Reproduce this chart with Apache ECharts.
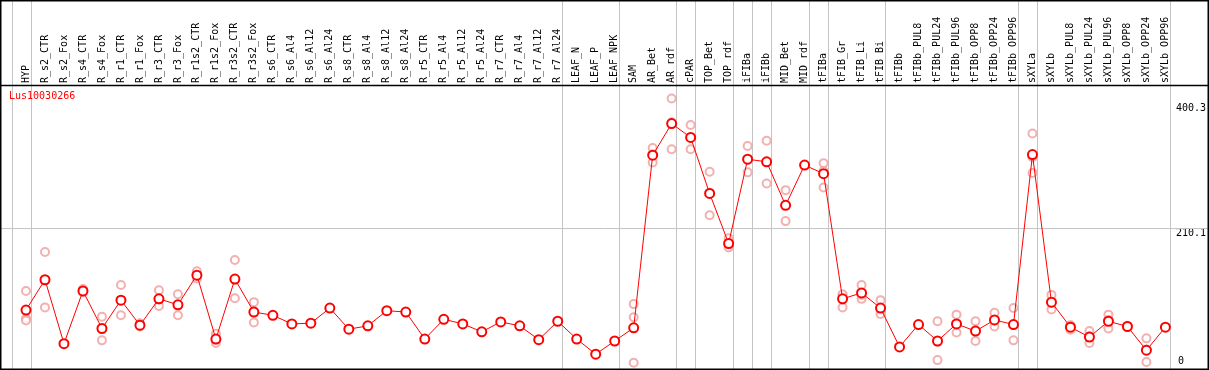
<!DOCTYPE html>
<html>
<head>
<meta charset="utf-8">
<script src="https://cdn.jsdelivr.net/npm/echarts@6/dist/echarts.min.js"></script>
<style>
html,body{margin:0;padding:0;background:#fff;}
#chart{width:1209px;height:370px;}
</style>
</head>
<body>
<div id="chart"></div>
<script>
const geneName = 'Lus10030266';
const categories = ['HYP','R_s2_CTR','R_s2_Fox','R_s4_CTR','R_s4_Fox','R_r1_CTR','R_r1_Fox','R_r3_CTR','R_r3_Fox','R_r1s2_CTR','R_r1s2_Fox','R_r3s2_CTR','R_r3s2_Fox','R_s6_CTR','R_s6_Al4','R_s6_Al12','R_s6_Al24','R_s8_CTR','R_s8_Al4','R_s8_Al12','R_s8_Al24','R_r5_CTR','R_r5_Al4','R_r5_Al12','R_r5_Al24','R_r7_CTR','R_r7_Al4','R_r7_Al12','R_r7_Al24','LEAF_N','LEAF_P','LEAF_NPK','SAM','AR_Bet','AR_rdf','cPAR','TOP_Bet','TOP_rdf','iFIBa','iFIBb','MID_Bet','MID_rdf','tFIBa','tFIB_Gr','tFIB_Li','tFIB_Bi','tFIBb','tFIBb_PUL8','tFIBb_PUL24','tFIBb_PUL96','tFIBb_OPP8','tFIBb_OPP24','tFIBb_OPP96','sXYLa','sXYLb','sXYLb_PUL8','sXYLb_PUL24','sXYLb_PUL96','sXYLb_OPP8','sXYLb_OPP24','sXYLb_OPP96'];
const meanValues = [86,132,35,115,58,101,63,103,94,139,42,133,83,78,65,66,89,57,62,85,83,42,72,65,53,68,62,41,69,42,19,39,59,321,369,348,263,187,315,311,245,306,293,103,112,89,30,64,39,65,54,71,64,322,98,60,45,69,61,25,60];
const rep1 = [115,174,null,118,76,124,66,116,110,145,50,162,98,null,null,null,null,null,null,null,null,null,null,null,null,null,null,null,null,null,null,null,95,332,407,367,296,195,335,343,268,null,309,108,124,101,null,null,69,79,69,82,89,354,109,63,54,79,62,43,null];
const rep2 = [73,90,null,113,40,78,61,92,78,134,36,104,67,null,null,null,null,null,null,null,null,null,null,null,null,null,null,null,null,null,null,null,75,310,330,330,230,181,295,278,221,null,272,90,103,86,null,null,10,52,39,61,40,294,87,56,36,58,61,7,null];
const rep3 = [70,131,null,114,58,101,63,102,93,138,41,132,84,null,null,null,null,null,null,null,null,null,null,null,null,null,null,null,null,null,null,null,6,322,371,348,264,186,314,311,246,null,297,110,109,80,null,null,38,65,55,70,64,318,97,62,46,71,61,26,null];
const groupEnds = [-1,0,28,31,34,35,37,38,39,41,42,45,52,53,60];
const yTickLabels = [210.1, 400.3];
const yZeroLabel = [0];
const refLineValue = 210.1;

const FONT = 'DejaVu Sans Mono';
const chart = echarts.init(document.getElementById('chart'), null, {renderer:'canvas'});

const repStyle = {
  type:'scatter', symbol:'emptyCircle', symbolSize:8,
  itemStyle:{color:'#f09c9c', borderColor:'#f09c9c', borderWidth:1.2},
  z:3, silent:true
};

chart.setOption({
  animation:false,
  backgroundColor:'#fff',
  title:{text:geneName, left:9, top:91, padding:0,
    textStyle:{color:'#ff0000', fontFamily:FONT, fontSize:10, fontWeight:'normal'}},
  grid:{left:16.5, right:33.5, top:86, bottom:1, containLabel:false},
  xAxis:{type:'category', position:'top', data:categories, boundaryGap:true,
    axisLine:{show:false}, axisTick:{show:false}, splitLine:{show:false},
    axisLabel:{interval:0, rotate:90, margin:3, color:'#000', fontFamily:FONT, fontSize:10}},
  yAxis:[
    {type:'value', position:'right', min:-3.5, max:426.1,
      axisLine:{show:false}, axisTick:{show:false}, splitLine:{show:false},
      axisLabel:{customValues:yTickLabels, margin:1, align:'left', verticalAlign:'top',
        color:'#000', fontFamily:FONT, fontSize:10, formatter:v=>String(v)}},
    {type:'value', position:'right', min:-3.5, max:426.1,
      axisLine:{show:false}, axisTick:{show:false}, splitLine:{show:false},
      axisLabel:{customValues:yZeroLabel, margin:3, align:'left', verticalAlign:'bottom',
        color:'#000', fontFamily:FONT, fontSize:10, formatter:v=>String(v)}}
  ],
  graphic:[
    {type:'rect', shape:{x:0.75,y:0.75,width:1207.5,height:368.5},
      style:{fill:null, stroke:'#000', lineWidth:1.5}, z:100, silent:true},
    {type:'line', shape:{x1:0,y1:85.5,x2:1209,y2:85.5},
      style:{stroke:'#000', lineWidth:1.5}, z:100, silent:true}
  ],
  series:[
    {type:'custom', name:'groups', clip:false, silent:true, z:1,
      data:groupEnds.map(g=>[0,0,g]), encode:{x:0,y:1},
      renderItem:(params, api)=>{
        const bw = api.size([1,0])[0];
        const x0 = api.coord([0,0])[0];
        const x = Math.round(x0 + (api.value(2) + 0.24) * bw) + 0.5;
        return {type:'line', shape:{x1:x,y1:0,x2:x,y2:params.coordSys.y+params.coordSys.height},
          style:{stroke:'#c4c4c4', lineWidth:1}};
      }},
    {type:'custom', name:'ref', clip:false, silent:true, z:1,
      data:[[0, refLineValue]], encode:{x:0,y:1},
      renderItem:(params, api)=>{
        const y = Math.round(api.coord([0, api.value(1)])[1]) + 0.5;
        return {type:'line', shape:{x1:0,y1:y,x2:1209,y2:y},
          style:{stroke:'#c4c4c4', lineWidth:1}};
      }},
    Object.assign({name:'rep1', data:rep1}, repStyle),
    Object.assign({name:'rep2', data:rep2}, repStyle),
    Object.assign({name:'rep3', data:rep3}, repStyle),
    {type:'line', name:'mean', data:meanValues, z:5, silent:true,
      symbol:'emptyCircle', symbolSize:9, showAllSymbol:true,
      lineStyle:{color:'#ff0000', width:1},
      itemStyle:{color:'#ff0000', borderColor:'#ff0000', borderWidth:1.6}}
  ]
});
</script>
</body>
</html>
